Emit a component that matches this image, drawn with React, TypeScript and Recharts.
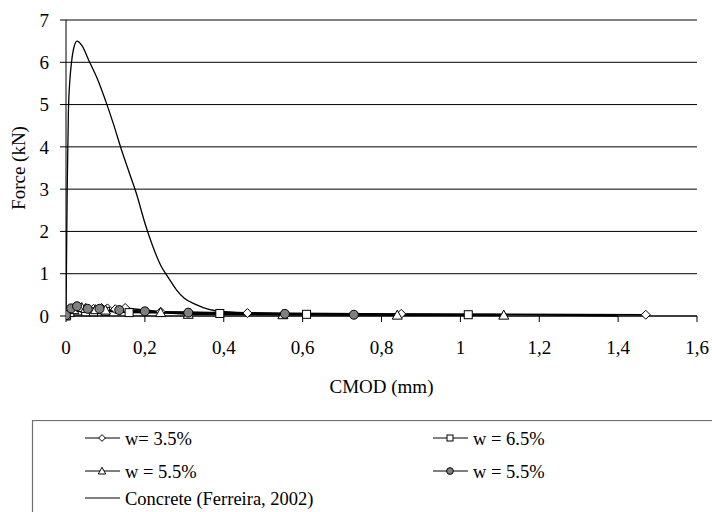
import React from 'react';
import { LineChart, Line, XAxis, YAxis, CartesianGrid, Label } from 'recharts';

// [CMOD (mm), Force (kN)]
const concrete = [
  [0, 0], [0.003, 3.0], [0.006, 4.8], [0.01, 5.6], [0.014, 6.0], [0.02, 6.35],
  [0.028, 6.5], [0.04, 6.4], [0.06, 6.0], [0.08, 5.6], [0.1, 5.1], [0.12, 4.55],
  [0.14, 3.95], [0.16, 3.4], [0.18, 2.85], [0.2, 2.2], [0.22, 1.65], [0.24, 1.2],
  [0.26, 0.9], [0.28, 0.62], [0.3, 0.42], [0.33, 0.27], [0.36, 0.16], [0.4, 0.1],
  [0.5, 0.07], [0.7, 0.05], [1.0, 0.04], [1.2, 0.03], [1.4, 0.0],
];
const w35 = [
  [0, 0.02], [0.01, 0.12], [0.03, 0.17], [0.05, 0.18], [0.07, 0.17], [0.09, 0.19],
  [0.105, 0.18], [0.125, 0.16], [0.15, 0.19], [0.24, 0.1], [0.46, 0.07], [0.85, 0.05], [1.47, 0.03],
];
const w65 = [
  [0, 0], [0.01, 0.08], [0.03, 0.12], [0.05, 0.1], [0.07, 0.1], [0.1, 0.11],
  [0.16, 0.08], [0.39, 0.06], [0.61, 0.04], [1.02, 0.03],
];
const w55a = [
  [0, 0.02], [0.02, 0.15], [0.04, 0.2], [0.05, 0.18], [0.075, 0.15], [0.1, 0.14],
  [0.24, 0.08], [0.31, 0.04], [0.55, 0.03], [0.84, 0.02], [1.11, 0.02],
];
const w55b = [
  [0, 0.02], [0.013, 0.18], [0.028, 0.23], [0.055, 0.17], [0.085, 0.17], [0.135, 0.14],
  [0.2, 0.11], [0.31, 0.08], [0.555, 0.05], [0.73, 0.03],
];

const xTicks = [0, 0.2, 0.4, 0.6, 0.8, 1, 1.2, 1.4, 1.6];
const yTicks = [0, 1, 2, 3, 4, 5, 6, 7];

const toRows = (pts: number[][]) => pts.map(([x, y]) => ({ x, y }));

const FONT = 'Liberation Serif, serif';
const axisTxt = { fontSize: 19, fill: '#000', fontFamily: FONT };
const legTxt = { fontSize: 18.5, fill: '#000', fontFamily: FONT };

type Shape = 'diamond' | 'square' | 'triangle' | 'circle';

function Marker({ shape, cx, cy, k = 1 }: { shape: Shape; cx: number; cy: number; k?: number }) {
  const s = 4.5 * k;
  if (shape === 'diamond')
    return <polygon points={`${cx},${cy - s} ${cx + s},${cy} ${cx},${cy + s} ${cx - s},${cy}`} fill="#fff" stroke="#000" strokeWidth={1} />;
  if (shape === 'square')
    return <rect x={cx - 4 * k} y={cy - 4 * k} width={8 * k} height={8 * k} fill="#fff" stroke="#000" strokeWidth={1} />;
  if (shape === 'triangle')
    return <polygon points={`${cx},${cy - 5 * k} ${cx + 5 * k},${cy + 4 * k} ${cx - 5 * k},${cy + 4 * k}`} fill="#fff" stroke="#000" strokeWidth={1} />;
  return <circle cx={cx} cy={cy} r={4.5 * k} fill="#808080" stroke="#000" strokeWidth={1} />;
}

const dotFor = (shape: Shape) => (props: any) => (
  <g key={`${shape}-${props.index}`}>
    <Marker shape={shape} cx={props.cx} cy={props.cy} />
  </g>
);

const series: { name: string; data: number[][]; shape: Shape }[] = [
  { name: 'w= 3.5%', data: w35, shape: 'diamond' },
  { name: 'w = 6.5%', data: w65, shape: 'square' },
  { name: 'w = 5.5%', data: w55a, shape: 'triangle' },
  { name: 'w = 5.5%', data: w55b, shape: 'circle' },
];

function LegendBox() {
  const rows = [
    { x: 85, y: 18, s: series[0] },
    { x: 433, y: 18, s: series[1] },
    { x: 85, y: 51, s: series[2] },
    { x: 433, y: 51, s: series[3] },
  ];
  return (
    <svg width={712} height={92} style={{ position: 'absolute', left: 0, top: 420, fontFamily: FONT }}>
      <rect x={32.5} y={0.5} width={720} height={120} fill="none" stroke="#6e6e6e" strokeWidth={1.2} />
      {rows.map((r, i) => (
        <g key={i}>
          <line x1={r.x} x2={r.x + 35} y1={r.y} y2={r.y} stroke="#000" strokeWidth={1} />
          <Marker shape={r.s.shape} cx={r.x + 17} cy={r.y} k={0.75} />
          <text x={r.x + 40} y={r.y + 6.5} style={legTxt}>{r.s.name}</text>
        </g>
      ))}
      <line x1={85} x2={120} y1={78} y2={78} stroke="#000" strokeWidth={1} />
      <text x={125} y={84.5} style={legTxt}>Concrete (Ferreira, 2002)</text>
    </svg>
  );
}

export default function App() {
  return (
    <div style={{ position: 'absolute', left: 0, top: 0, width: 712, height: 512, background: '#fff', fontFamily: FONT }}>
      <LineChart width={712} height={420} margin={{ top: 20, right: 15, left: 0, bottom: 0 }} style={{ fontFamily: FONT }}>
        <CartesianGrid vertical={false} stroke="#000" strokeWidth={1} />
        <XAxis
          type="number"
          dataKey="x"
          domain={[0, 1.6]}
          ticks={xTicks}
          tickFormatter={(v: number) => String(v).replace('.', ',')}
          tick={axisTxt}
          tickSize={6}
          tickMargin={19}
          stroke="#000"
          height={104}
          allowDataOverflow
        >
          <Label value="CMOD (mm)" position="insideTop" offset={64} style={axisTxt} />
        </XAxis>
        <YAxis
          type="number"
          domain={[0, 7]}
          ticks={yTicks}
          tick={axisTxt}
          tickSize={6}
          tickMargin={11}
          stroke="#000"
          width={66}
        >
          <Label value="Force (kN)" angle={-90} position="insideLeft" offset={18} style={{ ...axisTxt, textAnchor: 'middle' }} />
        </YAxis>
        <Line
          data={toRows(concrete)}
          dataKey="y"
          type="monotone"
          stroke="#000"
          strokeWidth={1.3}
          dot={false}
          isAnimationActive={false}
        />
        {series.map((s, i) => (
          <Line
            key={i}
            data={toRows(s.data)}
            dataKey="y"
            type="linear"
            stroke="#000"
            strokeWidth={1.5}
            dot={dotFor(s.shape)}
            activeDot={false}
            isAnimationActive={false}
          />
        ))}
      </LineChart>
      <LegendBox />
    </div>
  );
}
